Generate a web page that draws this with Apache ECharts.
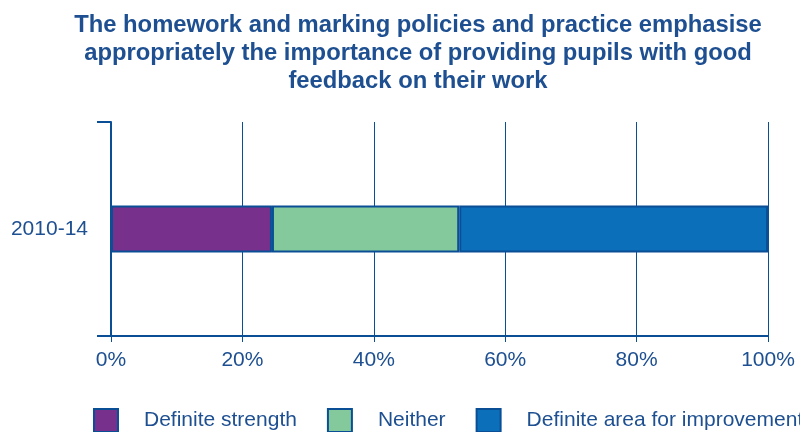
<!DOCTYPE html>
<html>
<head>
<meta charset="utf-8">
<script src="https://cdn.jsdelivr.net/npm/echarts@6/dist/echarts.min.js"></script>
<style>
    html, body { margin: 0; padding: 0; background: #fff; }
    #chart { width: 800px; height: 432px; }
</style>
</head>
<body>
<div id="chart"></div>
<script>
// data
const categories = ['2010-14']
const seriesNames = ['Definite strength', 'Neither', 'Definite area for improvement']
const strengthValues = [24.5]
const neitherValues = [28.5]
const improvementValues = [47]
const xTickLabels = ['0%', '20%', '40%', '60%', '80%', '100%']

const seriesColors = ['#77318c', '#84c99b', '#0b6fba']
const lineColor = '#0a4f96'
const textColor = '#1d4f91'

const chart = echarts.init(document.getElementById('chart'))

const valueLists = [strengthValues, neitherValues, improvementValues]
let series = []
valueLists.forEach((vals, i) => {
    series.push({
        name: seriesNames[i],
        type: 'bar',
        stack: 'total',
        barWidth: 47,
        itemStyle: {
            color: seriesColors[i],
            borderColor: lineColor,
            borderWidth: 2
        },
        data: vals
    })
})

const option = {
    animation: false,
    title: {
        text: 'The homework and marking policies and practice emphasise\nappropriately the importance of providing pupils with good\nfeedback on their work',
        left: 413,
        textAlign: 'center',
        top: 6,
        textStyle: {
            color: textColor,
            fontFamily: 'Liberation Sans',
            fontWeight: 'bold',
            fontSize: 23.8,
            lineHeight: 28
        }
    },
    legend: {
        left: 93,
        top: 408,
        width: 760,
        padding: 0,
        icon: 'rect',
        itemWidth: 24,
        itemHeight: 23,
        itemGap: 30,
        textStyle: {
            color: textColor,
            fontFamily: 'Liberation Sans',
            fontSize: 21,
            padding: [0, 0, 0, 21]
        },
        data: seriesNames
    },
    grid: {
        left: 111,
        right: 32,
        top: 122,
        bottom: 96
    },
    xAxis: {
        type: 'value',
        min: 0,
        max: 100,
        interval: 20,
        axisLine: {
            show: true,
            lineStyle: { color: lineColor, width: 2 }
        },
        axisTick: {
            show: true,
            length: 6,
            lineStyle: { color: lineColor, width: 1 }
        },
        splitLine: {
            show: true,
            lineStyle: { color: lineColor, width: 1 }
        },
        axisLabel: {
            color: textColor,
            fontFamily: 'Liberation Sans',
            fontSize: 21,
            margin: 14,
            formatter: (v) => xTickLabels[Math.round(v / 20)]
        }
    },
    yAxis: {
        type: 'category',
        data: categories,
        axisLine: {
            show: true,
            lineStyle: { color: lineColor, width: 2 }
        },
        axisTick: {
            show: true,
            length: 14,
            lineStyle: { color: lineColor, width: 2 }
        },
        axisLabel: {
            color: textColor,
            fontFamily: 'Liberation Sans',
            fontSize: 21,
            margin: 23
        }
    },
    series: series
}

chart.setOption(option, true)
</script>
</body>
</html>
